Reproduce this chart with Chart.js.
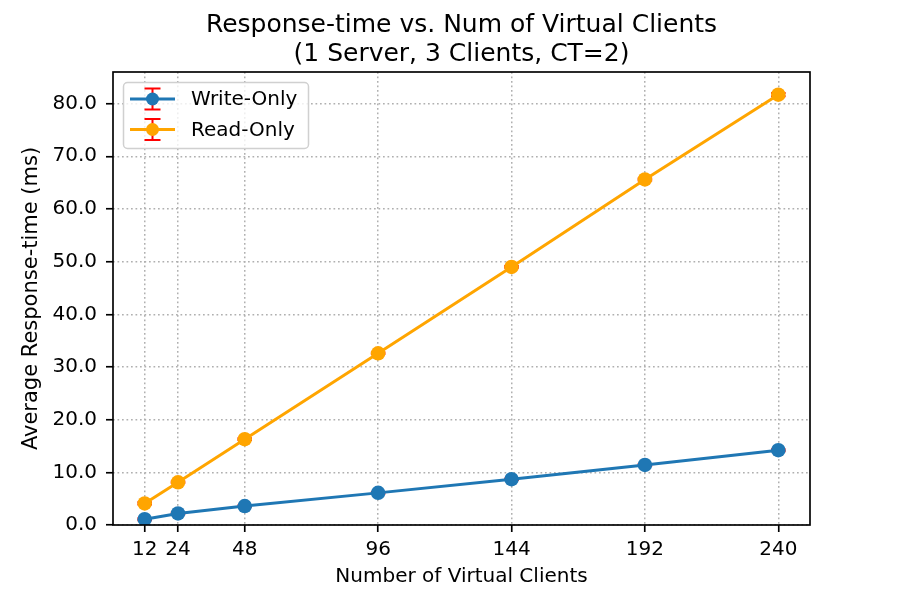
<!DOCTYPE html>
<html>
<head>
<meta charset="utf-8">
<script src="https://cdn.jsdelivr.net/npm/chart.js@4/dist/chart.umd.min.js"></script>
<style>
html,body{margin:0;padding:0;background:#fff;}
#wrap{width:900px;height:600px;}
</style>
</head>
<body>
<div id="wrap"><canvas id="c" width="900" height="600"></canvas></div>
<script>
const clients = [12, 24, 48, 96, 144, 192, 240];
const writeOnly = [1.1, 2.2, 3.6, 6.1, 8.7, 11.4, 14.2];
const writeErr  = [0.2, 0.15, 0.15, 0.15, 0.15, 0.2, 0.2];
const readOnly  = [4.1, 8.1, 16.3, 32.6, 49.0, 65.6, 81.7];
const readErr   = [0.2, 0.15, 0.15, 0.15, 0.15, 0.2, 0.3];
const yTicks = [0, 10, 20, 30, 40, 50, 60, 70, 80];
const titleLines = ['Response-time vs. Num of Virtual Clients', '(1 Server, 3 Clients, CT=2)'];
const xLabel = 'Number of Virtual Clients';
const yLabel = 'Average Response-time (ms)';

const FONT = "'DejaVu Sans', sans-serif";
const BLUE = '#1f77b4', ORANGE = '#ffa500', RED = '#ff0000';
const MARKER_R = 7.25, CAP = 7.25;

const errorsByDataset = [writeErr, readErr];

const errorBarPlugin = {
  id: 'errorBars',
  beforeDatasetsDraw(chart) {
    const ctx = chart.ctx;
    const xs = chart.scales.x, ys = chart.scales.y;
    ctx.save();
    ctx.strokeStyle = RED;
    ctx.lineWidth = 2;
    chart.data.datasets.forEach((ds, i) => {
      const errs = errorsByDataset[i];
      ds.data.forEach((p, j) => {
        const px = xs.getPixelForValue(p.x);
        const y1 = ys.getPixelForValue(p.y - errs[j]);
        const y2 = ys.getPixelForValue(p.y + errs[j]);
        ctx.beginPath();
        ctx.moveTo(px, y1); ctx.lineTo(px, y2);
        ctx.moveTo(px - CAP, y1); ctx.lineTo(px + CAP, y1);
        ctx.moveTo(px - CAP, y2); ctx.lineTo(px + CAP, y2);
        ctx.stroke();
      });
    });
    ctx.restore();
  }
};

const framePlugin = {
  id: 'frame',
  afterDraw(chart) {
    const ctx = chart.ctx, a = chart.chartArea;
    ctx.save();
    // title, centred over the plot area
    ctx.fillStyle = '#000';
    ctx.font = '25px ' + FONT;
    ctx.textAlign = 'center';
    ctx.textBaseline = 'alphabetic';
    const cx = (a.left + a.right) / 2;
    ctx.fillText(titleLines[0], cx, 32);
    ctx.fillText(titleLines[1], cx, 61);

    ctx.strokeStyle = '#000';
    ctx.lineWidth = 1.67;
    ctx.strokeRect(a.left, a.top, a.right - a.left, a.bottom - a.top);
    // legend
    const lx = 123.5, ly = 82.5, lw = 185, lh = 66, r = 4;
    ctx.fillStyle = 'rgba(255,255,255,0.8)';
    ctx.strokeStyle = '#d0d0d0';
    ctx.lineWidth = 1.5;
    ctx.beginPath();
    ctx.moveTo(lx + r, ly);
    ctx.lineTo(lx + lw - r, ly); ctx.arcTo(lx + lw, ly, lx + lw, ly + r, r);
    ctx.lineTo(lx + lw, ly + lh - r); ctx.arcTo(lx + lw, ly + lh, lx + lw - r, ly + lh, r);
    ctx.lineTo(lx + r, ly + lh); ctx.arcTo(lx, ly + lh, lx, ly + lh - r, r);
    ctx.lineTo(lx, ly + r); ctx.arcTo(lx, ly, lx + r, ly, r);
    ctx.closePath();
    ctx.fill(); ctx.stroke();
    const rows = [99, 129.5];
    chart.data.datasets.forEach((ds, i) => {
      const cy = rows[i];
      ctx.strokeStyle = ds.borderColor;
      ctx.lineWidth = 3;
      ctx.beginPath(); ctx.moveTo(130, cy); ctx.lineTo(175, cy); ctx.stroke();
      ctx.strokeStyle = RED; ctx.lineWidth = 2;
      ctx.beginPath();
      ctx.moveTo(152.5, cy - 10.5); ctx.lineTo(152.5, cy + 10.5);
      ctx.moveTo(144.5, cy - 10.5); ctx.lineTo(160.5, cy - 10.5);
      ctx.moveTo(144.5, cy + 10.5); ctx.lineTo(160.5, cy + 10.5);
      ctx.stroke();
      ctx.fillStyle = ds.backgroundColor;
      ctx.beginPath(); ctx.arc(152.5, cy, 6.5, 0, Math.PI * 2); ctx.fill();
      ctx.fillStyle = '#000';
      ctx.font = '20px ' + FONT;
      ctx.textBaseline = 'middle';
      ctx.textAlign = 'left';
      ctx.fillText(ds.label, 191, cy + 1);
    });
    ctx.restore();
  }
};

const gridCommon = {
  color: '#b0b0b0',
  lineWidth: 1.5,
  drawTicks: true,
  tickLength: 7,
  tickColor: '#000',
  tickWidth: 1.67
};
const borderCommon = {display: false, dash: [1.7, 2.8]};

new Chart(document.getElementById('c'), {
  type: 'line',
  data: {
    datasets: [
      {
        label: 'Write-Only',
        data: clients.map((c, i) => ({x: c, y: writeOnly[i]})),
        borderColor: BLUE, backgroundColor: BLUE,
        borderWidth: 3, pointRadius: MARKER_R, pointHoverRadius: MARKER_R, pointBorderWidth: 0, tension: 0
      },
      {
        label: 'Read-Only',
        data: clients.map((c, i) => ({x: c, y: readOnly[i]})),
        borderColor: ORANGE, backgroundColor: ORANGE,
        borderWidth: 3, pointRadius: MARKER_R, pointHoverRadius: MARKER_R, pointBorderWidth: 0, tension: 0
      }
    ]
  },
  options: {
    responsive: false,
    animation: false,
    events: [],
    layout: {padding: {left: 0, right: 90, top: 72, bottom: 0}},
    plugins: {
      legend: {display: false},
      tooltip: {enabled: false},
      title: {display: false}
    },
    scales: {
      x: {
        type: 'linear',
        min: 0.6, max: 251.4,
        afterBuildTicks: s => { s.ticks = clients.map(v => ({value: v})); },
        afterFit: s => { s.height = 75; },
        grid: gridCommon,
        border: borderCommon,
        ticks: {color: '#000', font: {family: FONT, size: 20}, padding: 6, maxRotation: 0, autoSkip: false,
                callback: v => String(v)},
        title: {display: true, text: xLabel, color: '#000', font: {family: FONT, size: 20}, padding: {top: 4, bottom: 11}}
      },
      y: {
        type: 'linear',
        min: 0, max: 86,
        afterBuildTicks: s => { s.ticks = yTicks.map(v => ({value: v})); },
        afterFit: s => { s.width = 113; },
        grid: gridCommon,
        border: borderCommon,
        ticks: {color: '#000', font: {family: FONT, size: 20}, padding: 9,
                callback: v => Number(v).toFixed(1)},
        title: {display: true, text: yLabel, color: '#000', font: {family: FONT, size: 21}, padding: {top: 19, bottom: 4}}
      }
    }
  },
  plugins: [errorBarPlugin, framePlugin]
});
</script>
</body>
</html>
